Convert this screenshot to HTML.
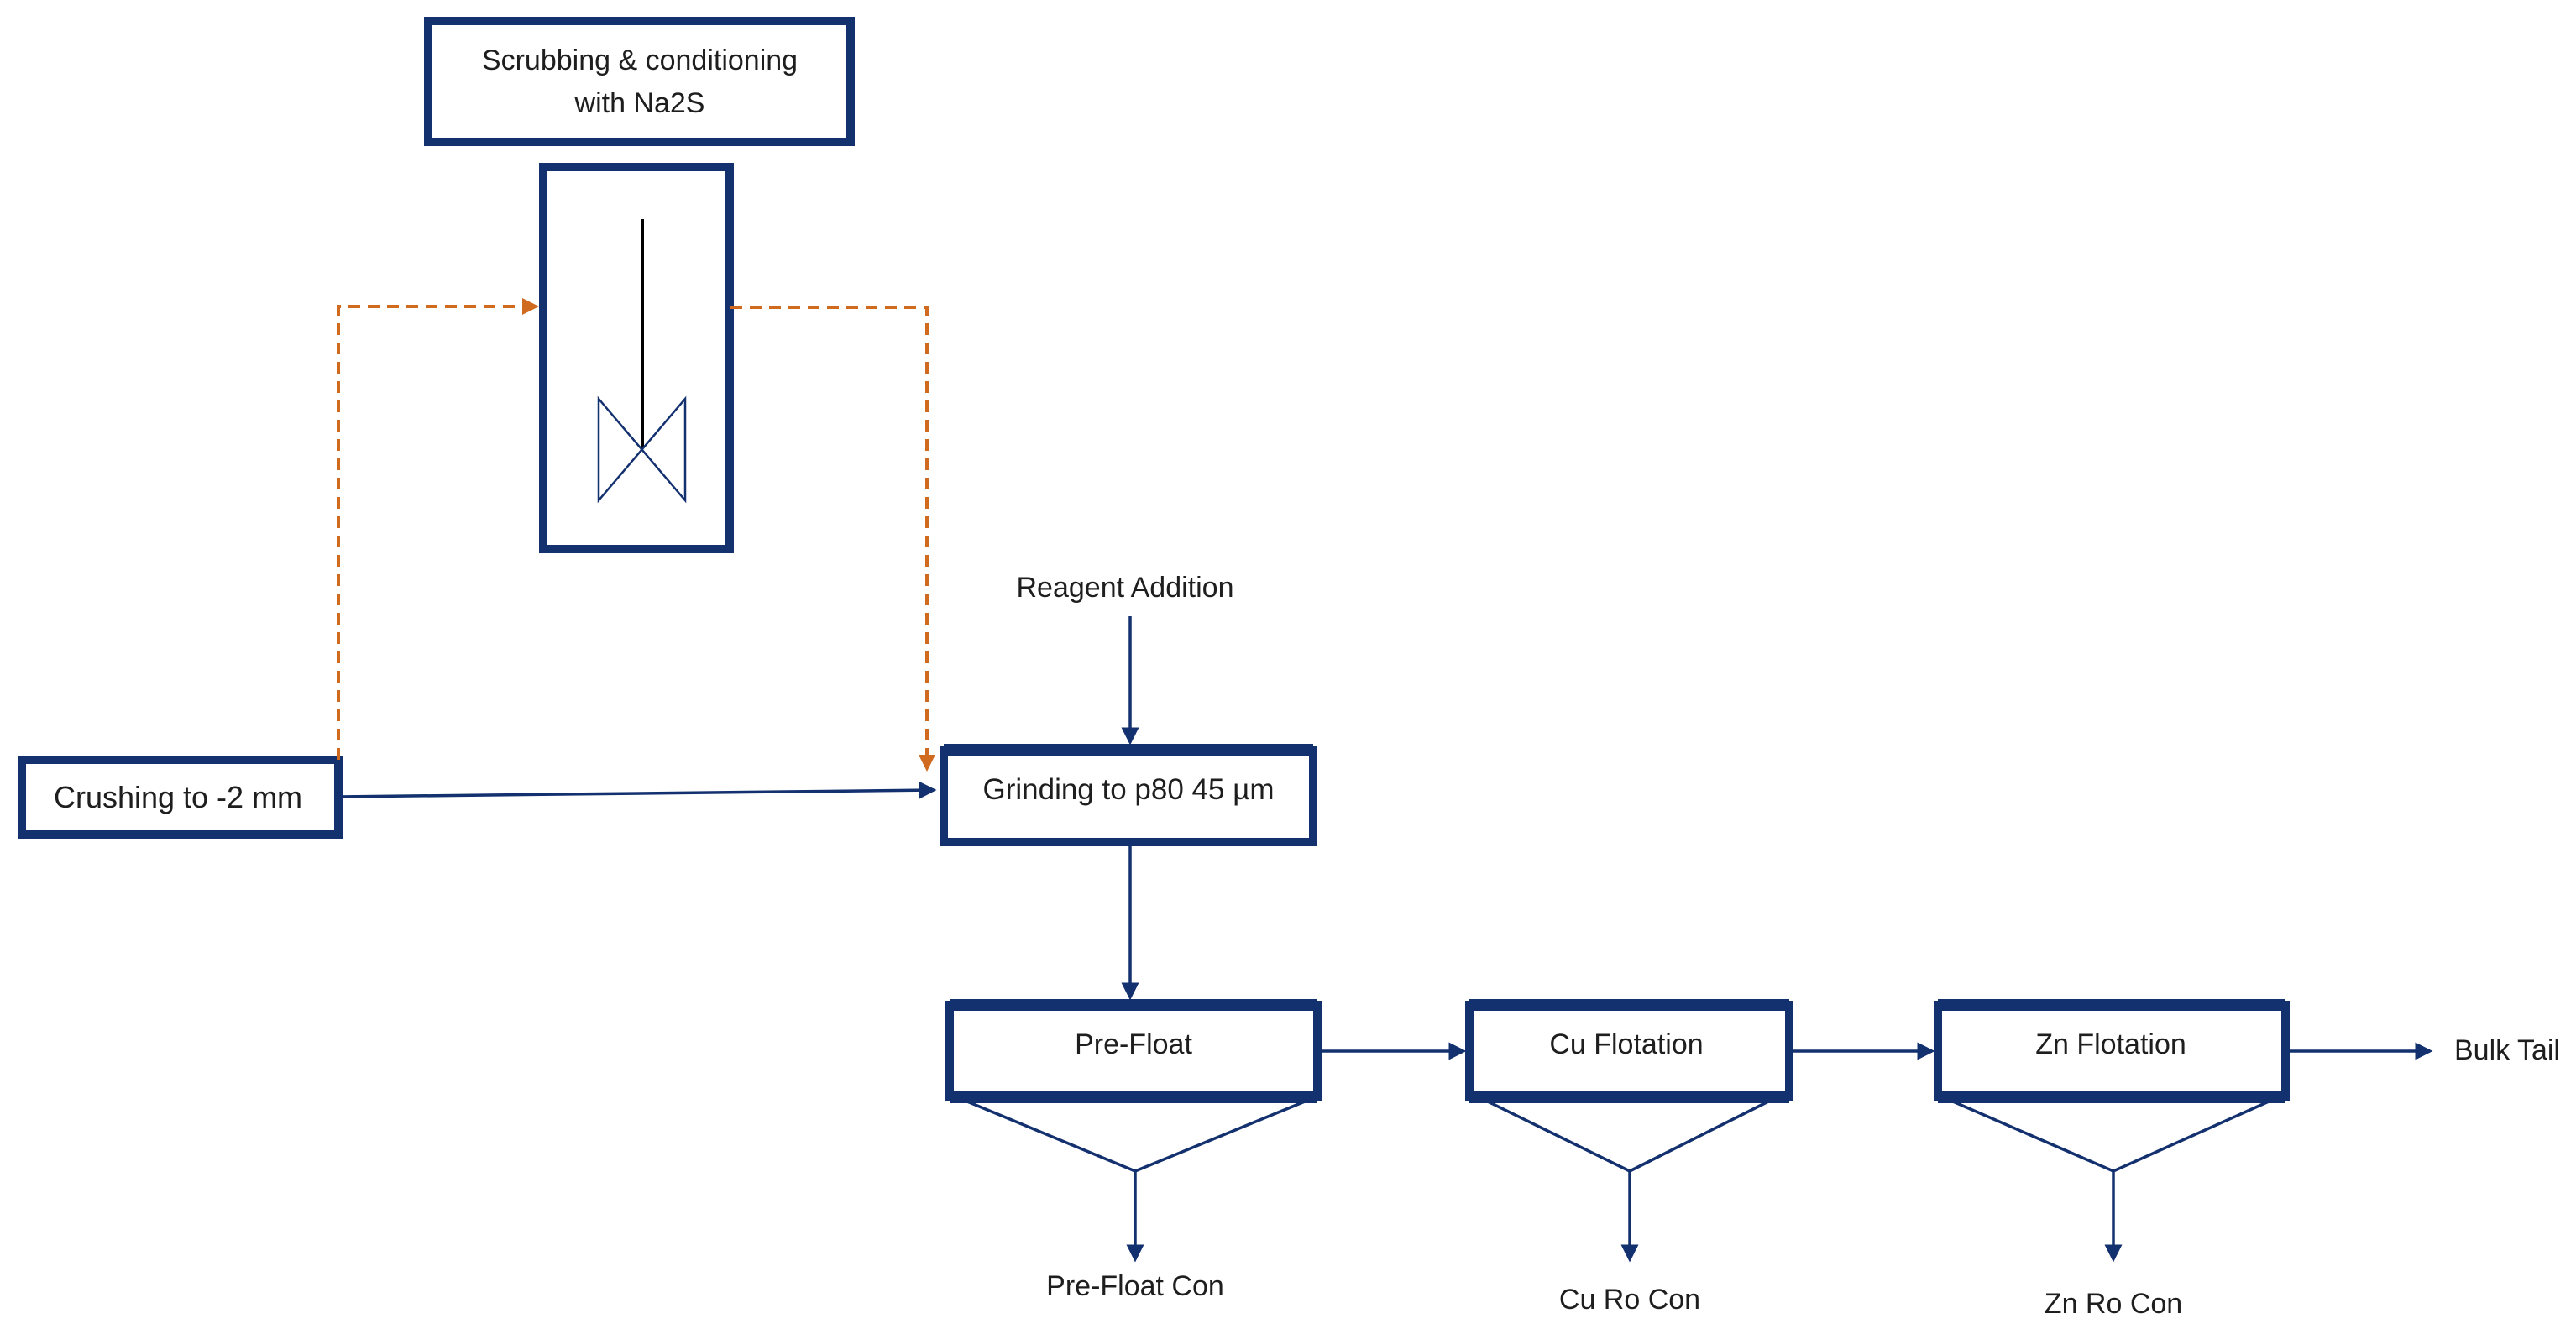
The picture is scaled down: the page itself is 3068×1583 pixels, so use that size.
<!DOCTYPE html>
<html><head><meta charset="utf-8"><style>
html,body{margin:0;padding:0;background:#fff;}
svg{display:block;}
text{font-family:"Liberation Sans",sans-serif;fill:#1e1e1e;text-anchor:middle;}
</style></head><body>
<svg width="3068" height="1583" viewBox="0 0 3068 1583" xmlns="http://www.w3.org/2000/svg">
<defs>
<marker id="ab" markerWidth="6" markerHeight="6" refX="5" refY="3" orient="auto" markerUnits="strokeWidth"><path d="M0,0 L6,3 L0,6 z" fill="#13306f"/></marker>
<marker id="ao" markerWidth="5" markerHeight="5" refX="4" refY="2.5" orient="auto" markerUnits="strokeWidth"><path d="M0,0 L5,2.5 L0,5 z" fill="#cf6a1f"/></marker>
</defs>
<g fill="none" stroke="#13306f" stroke-width="10">
<rect x="510" y="25" width="503" height="144"/>
<rect x="647" y="199" width="222" height="455"/>
<rect x="26" y="905" width="377" height="89"/>
<rect x="1124" y="893" width="440" height="110"/>
<rect x="1131" y="1197" width="438" height="110"/>
<rect x="1750" y="1197" width="381" height="110"/>
<rect x="2308" y="1197" width="414" height="110"/>
</g>
<g stroke="#13306f" stroke-width="14" fill="none">
<line x1="1124" y1="893" x2="1564" y2="893"/>
<line x1="1131" y1="1197" x2="1569" y2="1197"/>
<line x1="1750" y1="1197" x2="2131" y2="1197"/>
<line x1="2308" y1="1197" x2="2722" y2="1197"/>
<line x1="1131" y1="1307" x2="1569" y2="1307"/>
<line x1="1750" y1="1307" x2="2131" y2="1307"/>
<line x1="2308" y1="1307" x2="2722" y2="1307"/>
</g>
<line x1="765" y1="261" x2="765" y2="534" stroke="#000" stroke-width="4"/>
<path d="M713,475 L816,596 L816,475 L713,596 Z" fill="none" stroke="#13306f" stroke-width="2.5"/>
<g fill="none" stroke="#cf6a1f" stroke-width="4" stroke-dasharray="14,9">
<path d="M403,905 L403,365 L638,365" marker-end="url(#ao)"/>
<path d="M870,366 L1104,366 L1104,915" marker-end="url(#ao)"/>
</g>
<g fill="none" stroke="#13306f" stroke-width="3.5">
<line x1="403" y1="949" x2="1112" y2="941" marker-end="url(#ab)"/>
<line x1="1346" y1="734" x2="1346" y2="884" marker-end="url(#ab)"/>
<line x1="1346" y1="1008" x2="1346" y2="1188" marker-end="url(#ab)"/>
<line x1="1569" y1="1252" x2="1743" y2="1252" marker-end="url(#ab)"/>
<line x1="2131" y1="1252" x2="2301" y2="1252" marker-end="url(#ab)"/>
<line x1="2722" y1="1252" x2="2894" y2="1252" marker-end="url(#ab)"/>
<path d="M1152,1312 L1352,1395 L1554,1312"/>
<path d="M1772,1312 L1941,1395 L2106,1312"/>
<path d="M2326,1312 L2517,1395 L2702,1312"/>
<line x1="1352" y1="1395" x2="1352" y2="1500" marker-end="url(#ab)"/>
<line x1="1941" y1="1395" x2="1941" y2="1500" marker-end="url(#ab)"/>
<line x1="2517" y1="1395" x2="2517" y2="1500" marker-end="url(#ab)"/>
</g>
<g font-size="34">
<text x="762" y="83">Scrubbing &amp; conditioning</text>
<text x="762" y="134">with Na2S</text>
<text x="212" y="962" font-size="36">Crushing to -2 mm</text>
<text x="1344" y="952" font-size="35">Grinding to p80 45 µm</text>
<text x="1340" y="711">Reagent Addition</text>
<text x="1350" y="1255">Pre-Float</text>
<text x="1937" y="1255">Cu Flotation</text>
<text x="2514" y="1255">Zn Flotation</text>
<text x="2986" y="1262">Bulk Tail</text>
<text x="1352" y="1543">Pre-Float Con</text>
<text x="1941" y="1559">Cu Ro Con</text>
<text x="2517" y="1564">Zn Ro Con</text>
</g>
</svg>
</body></html>
